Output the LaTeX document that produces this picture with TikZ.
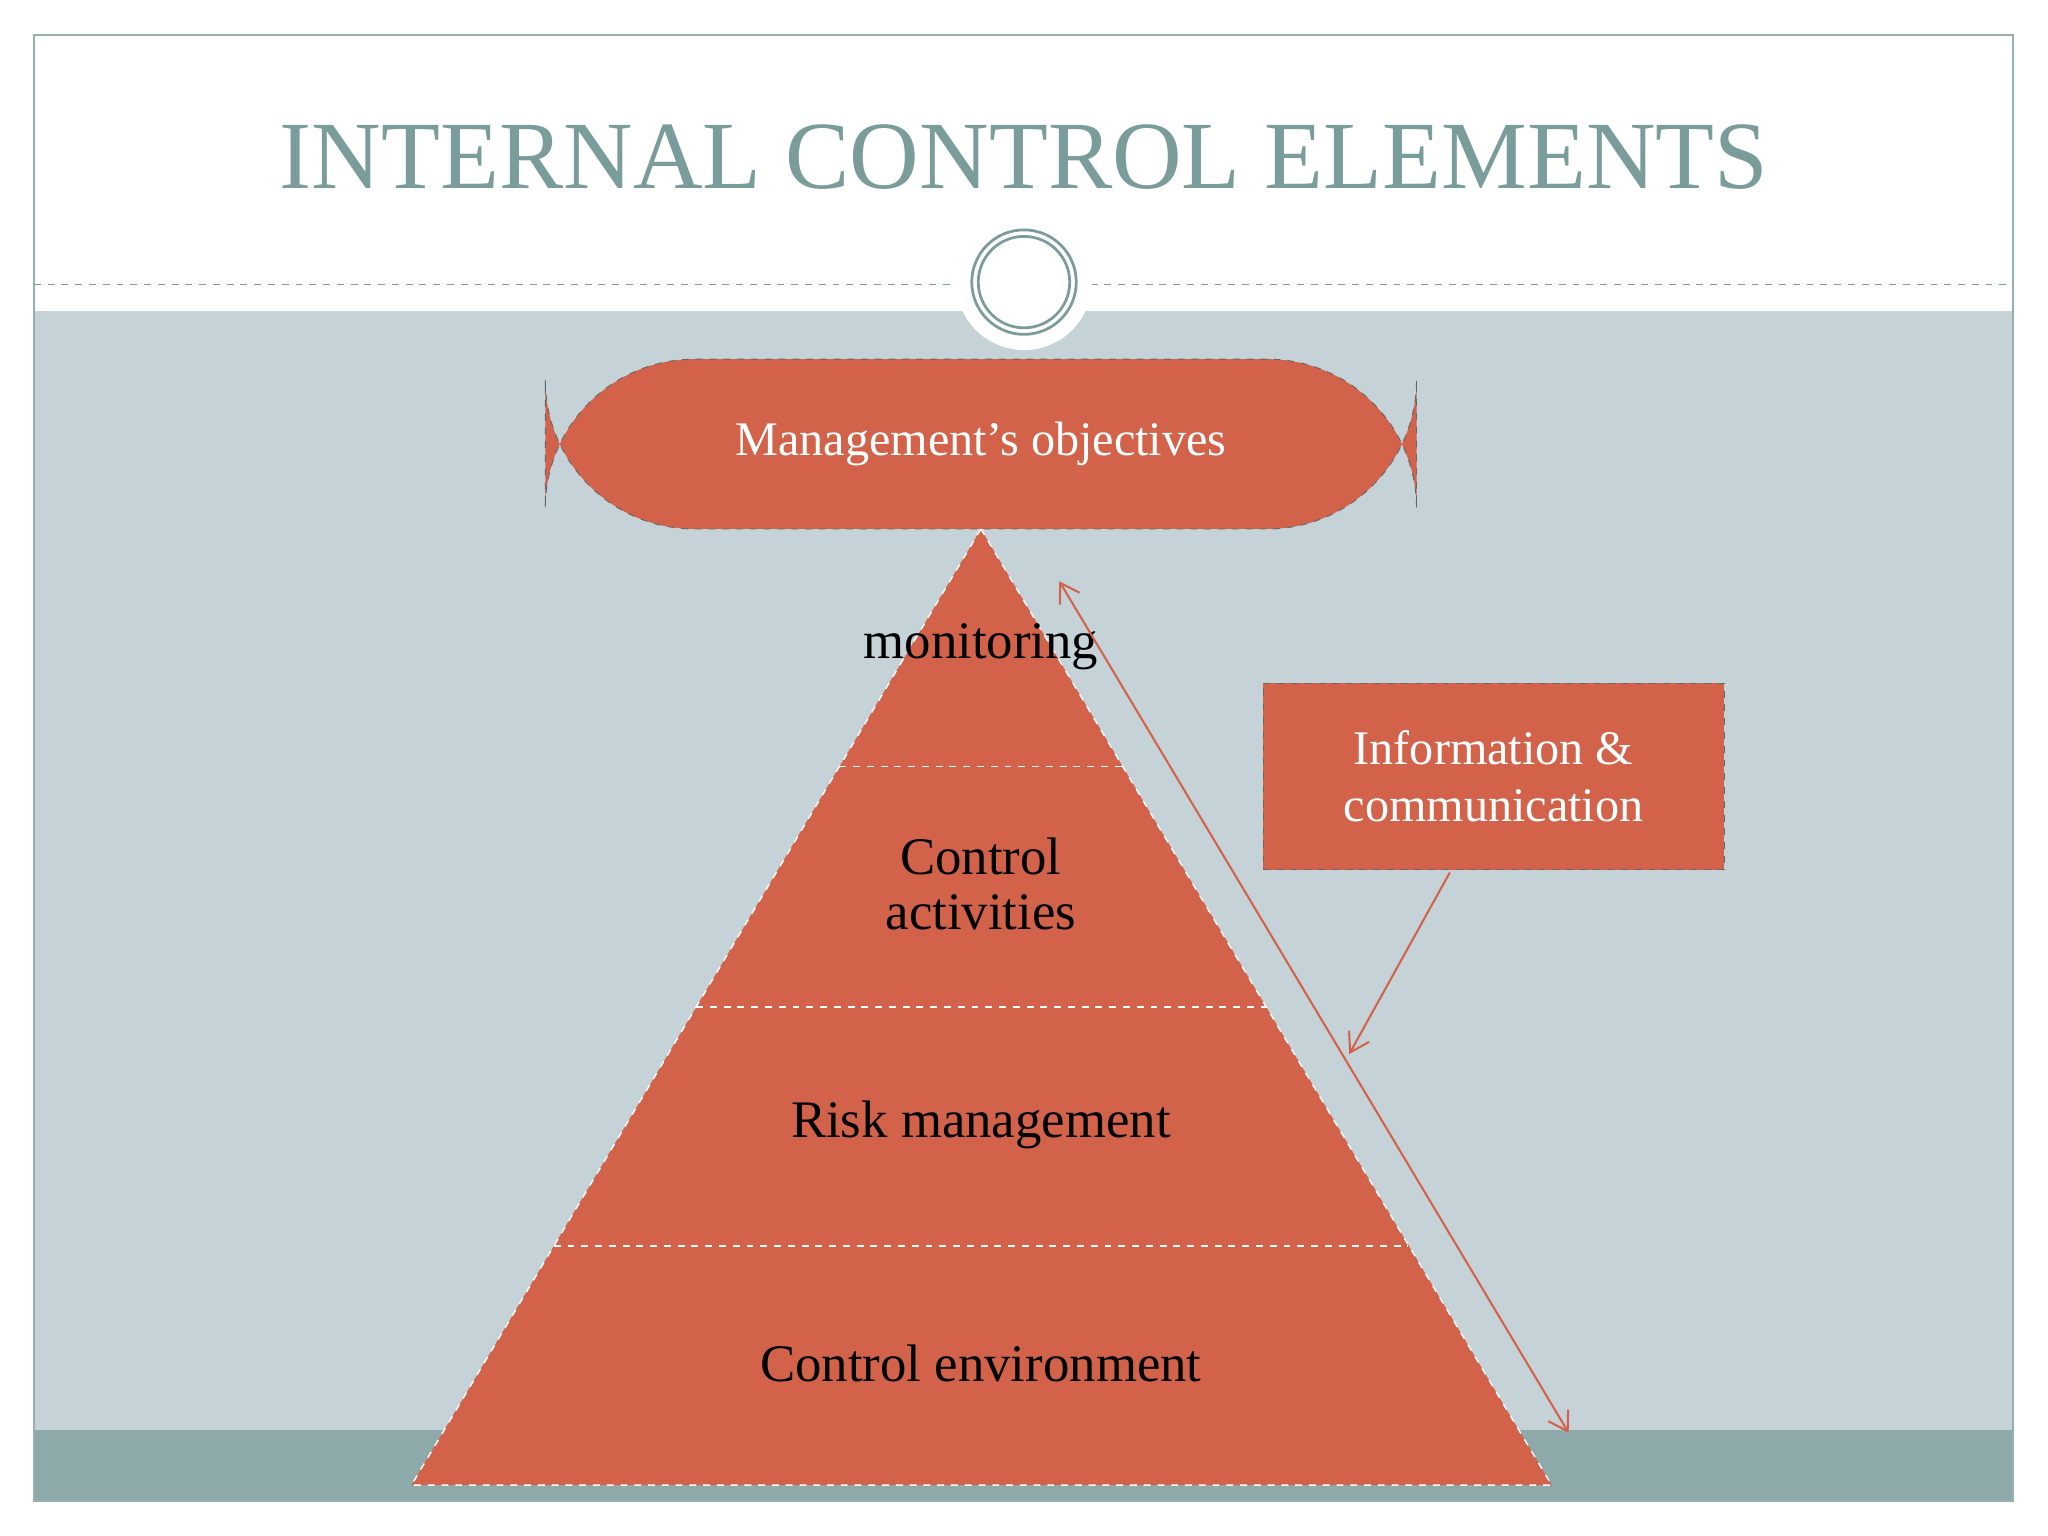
\documentclass[tikz,border=0pt]{standalone}
\usepackage{fontspec}
\setmainfont{Liberation Serif}
\usetikzlibrary{arrows.meta}
\definecolor{rust}{HTML}{D2634A}
\definecolor{paleblue}{HTML}{C5D2D8}
\definecolor{darkteal}{HTML}{8DA9A9}
\definecolor{titlecol}{HTML}{7A9C9A}
\tikzset{
 lbl/.style={font=\fontsize{23}{26}\selectfont, text=black, align=center},
 wlbl/.style={font=\fontsize{21}{25}\selectfont, text=white, align=center},
 conn/.style={draw=rust, line width=0.9pt, -{Straight Barb[length=8pt,width=10pt]}},
}
\begin{document}
\begin{tikzpicture}[x=0.02cm,y=-0.02cm]
\useasboundingbox (0,0) rectangle (1568,1176);
\fill[white] (0,0) rectangle (1568,1176);
\fill[paleblue] (26,238) rectangle (1541,1095);
\fill[darkteal] (26,1095) rectangle (1541,1149);
\draw[titlecol!80, line width=0.8pt] (26,27) rectangle (1541,1149);
\draw[titlecol, dashed, line width=0.6pt] (26,218) -- (735,218);
\draw[titlecol, dashed, line width=0.6pt] (835,218) -- (1541,218);
\fill[white] (784,216) circle (52);
\draw[titlecol, line width=1.2pt] (784,216) circle (40);
\draw[titlecol, line width=1.2pt] (784,216) circle (35);
\node[font=\fontsize{42}{46}\selectfont, text=titlecol] (title) at (784,120) {INTERNAL CONTROL ELEMENTS};
% pill
\node[draw=black!60, dashed, fill=rust, rounded corners=65, minimum width=667*0.02cm, minimum height=130*0.02cm, wlbl] (mgmt) at (751,340) {Management’s objectives};
% pyramid
\coordinate (apex) at (751,405);
\coordinate (bl) at (315,1137);
\coordinate (br) at (1188,1137);
\fill[rust] (apex) -- (br) -- (bl) -- cycle;
\draw[white, dashed, line width=0.6pt] (apex) -- (br) -- (bl) -- cycle;
\coordinate (a1) at (642.6,587); \coordinate (b1) at (859.4,587);
\coordinate (a2) at (533,771); \coordinate (b2) at (969,771);
\coordinate (a3) at (424,954); \coordinate (b3) at (1078,954);
\draw[white, dashed, line width=0.6pt] (a1) -- (b1) (a2) -- (b2) (a3) -- (b3);
\node[lbl] (mon) at (751,495) {monitoring};
\node[lbl, font=\fontsize{23}{24}\selectfont] (ca) at (751,677) {Control\\activities};
\node[lbl] (rm) at (751,861) {Risk management};
\node[lbl] (ce) at (751,1044) {Control environment};
% info box
\node[draw=black!60, dashed, fill=rust, minimum width=353*0.02cm, minimum height=143*0.02cm, wlbl, font=\fontsize{21}{25}\selectfont] (info) at (1143.5,594.5) {Information \&\\communication};
\coordinate (d1) at (811,445);
\coordinate (d2) at (1201,1097);
\draw[conn, {Straight Barb[length=8pt,width=10pt]}-{Straight Barb[length=8pt,width=10pt]}] (d1) -- (d2);
\coordinate (ie) at (1110,668);
\coordinate (it) at (1033,807);
\draw[conn] (ie) -- (it);
\end{tikzpicture}
\end{document}
